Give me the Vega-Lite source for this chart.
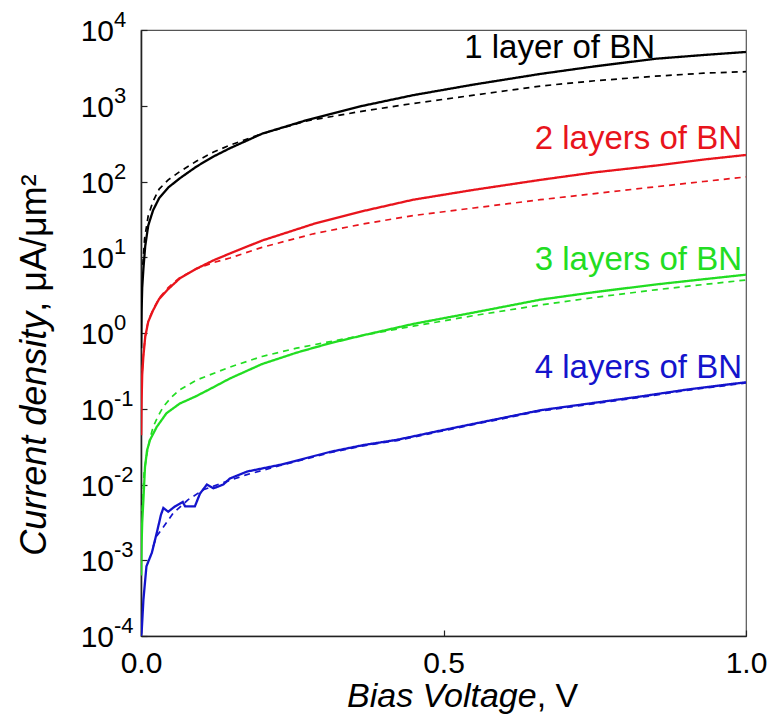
{
  "$schema": "https://vega.github.io/schema/vega-lite/v6.json",
  "width": 605,
  "height": 606,
  "autosize": "none",
  "padding": {"left": 141, "top": 30, "right": 28, "bottom": 92},
  "background": "white",
  "config": {
    "font": "Liberation Sans",
    "view": {"stroke": "#555", "strokeWidth": 1.2},
    "axis": {"grid": false, "domainColor": "#222", "domainWidth": 1.6, "tickColor": "#222", "tickWidth": 1.2, "labelColor": "#000", "labelFont": "Liberation Sans"}
  },
  "datasets": {
    "yticks": [
      {"J": 0.0001, "e": "-4"},
      {"J": 0.001, "e": "-3"},
      {"J": 0.01, "e": "-2"},
      {"J": 0.1, "e": "-1"},
      {"J": 1, "e": "0"},
      {"J": 10, "e": "1"},
      {"J": 100, "e": "2"},
      {"J": 1000, "e": "3"},
      {"J": 10000, "e": "4"}
    ],
    "curves": [
      {"s": "1 layer of BN", "k": "measured", "V": 0.0003, "J": 0.631},
      {"s": "1 layer of BN", "k": "measured", "V": 0.001, "J": 1.995},
      {"s": "1 layer of BN", "k": "measured", "V": 0.002, "J": 3.98},
      {"s": "1 layer of BN", "k": "measured", "V": 0.004, "J": 7.08},
      {"s": "1 layer of BN", "k": "measured", "V": 0.007, "J": 14.1},
      {"s": "1 layer of BN", "k": "measured", "V": 0.012, "J": 26.3},
      {"s": "1 layer of BN", "k": "measured", "V": 0.02, "J": 41.7},
      {"s": "1 layer of BN", "k": "measured", "V": 0.03, "J": 60.3},
      {"s": "1 layer of BN", "k": "measured", "V": 0.045, "J": 83.2},
      {"s": "1 layer of BN", "k": "measured", "V": 0.064, "J": 110},
      {"s": "1 layer of BN", "k": "measured", "V": 0.092, "J": 158},
      {"s": "1 layer of BN", "k": "measured", "V": 0.12, "J": 214},
      {"s": "1 layer of BN", "k": "measured", "V": 0.147, "J": 275},
      {"s": "1 layer of BN", "k": "measured", "V": 0.2, "J": 427},
      {"s": "1 layer of BN", "k": "measured", "V": 0.274, "J": 646},
      {"s": "1 layer of BN", "k": "measured", "V": 0.367, "J": 1000},
      {"s": "1 layer of BN", "k": "measured", "V": 0.45, "J": 1380},
      {"s": "1 layer of BN", "k": "measured", "V": 0.55, "J": 1905},
      {"s": "1 layer of BN", "k": "measured", "V": 0.66, "J": 2630},
      {"s": "1 layer of BN", "k": "measured", "V": 0.75, "J": 3311},
      {"s": "1 layer of BN", "k": "measured", "V": 0.85, "J": 4169},
      {"s": "1 layer of BN", "k": "measured", "V": 0.93, "J": 4677},
      {"s": "1 layer of BN", "k": "measured", "V": 1.0, "J": 5129},

      {"s": "1 layer of BN", "k": "model", "V": 0.003, "J": 7.94},
      {"s": "1 layer of BN", "k": "model", "V": 0.006, "J": 17.8},
      {"s": "1 layer of BN", "k": "model", "V": 0.012, "J": 35.5},
      {"s": "1 layer of BN", "k": "model", "V": 0.02, "J": 55.0},
      {"s": "1 layer of BN", "k": "model", "V": 0.03, "J": 79.4},
      {"s": "1 layer of BN", "k": "model", "V": 0.045, "J": 105},
      {"s": "1 layer of BN", "k": "model", "V": 0.064, "J": 135},
      {"s": "1 layer of BN", "k": "model", "V": 0.092, "J": 186},
      {"s": "1 layer of BN", "k": "model", "V": 0.12, "J": 245},
      {"s": "1 layer of BN", "k": "model", "V": 0.147, "J": 302},
      {"s": "1 layer of BN", "k": "model", "V": 0.2, "J": 427},
      {"s": "1 layer of BN", "k": "model", "V": 0.274, "J": 631},
      {"s": "1 layer of BN", "k": "model", "V": 0.367, "J": 851},
      {"s": "1 layer of BN", "k": "model", "V": 0.45, "J": 1072},
      {"s": "1 layer of BN", "k": "model", "V": 0.55, "J": 1380},
      {"s": "1 layer of BN", "k": "model", "V": 0.66, "J": 1820},
      {"s": "1 layer of BN", "k": "model", "V": 0.75, "J": 2138},
      {"s": "1 layer of BN", "k": "model", "V": 0.85, "J": 2455},
      {"s": "1 layer of BN", "k": "model", "V": 0.93, "J": 2692},
      {"s": "1 layer of BN", "k": "model", "V": 1.0, "J": 2818},

      {"s": "2 layers of BN", "k": "measured", "V": 0.0003, "J": 0.0447},
      {"s": "2 layers of BN", "k": "measured", "V": 0.001, "J": 0.126},
      {"s": "2 layers of BN", "k": "measured", "V": 0.002, "J": 0.282},
      {"s": "2 layers of BN", "k": "measured", "V": 0.004, "J": 0.501},
      {"s": "2 layers of BN", "k": "measured", "V": 0.007, "J": 0.891},
      {"s": "2 layers of BN", "k": "measured", "V": 0.012, "J": 1.413},
      {"s": "2 layers of BN", "k": "measured", "V": 0.02, "J": 1.995},
      {"s": "2 layers of BN", "k": "measured", "V": 0.03, "J": 2.818},
      {"s": "2 layers of BN", "k": "measured", "V": 0.045, "J": 3.802},
      {"s": "2 layers of BN", "k": "measured", "V": 0.064, "J": 5.248},
      {"s": "2 layers of BN", "k": "measured", "V": 0.092, "J": 7.079},
      {"s": "2 layers of BN", "k": "measured", "V": 0.12, "J": 9.12},
      {"s": "2 layers of BN", "k": "measured", "V": 0.147, "J": 11.22},
      {"s": "2 layers of BN", "k": "measured", "V": 0.2, "J": 16.6},
      {"s": "2 layers of BN", "k": "measured", "V": 0.285, "J": 27.5},
      {"s": "2 layers of BN", "k": "measured", "V": 0.367, "J": 40.7},
      {"s": "2 layers of BN", "k": "measured", "V": 0.45, "J": 57.5},
      {"s": "2 layers of BN", "k": "measured", "V": 0.55, "J": 77.6},
      {"s": "2 layers of BN", "k": "measured", "V": 0.66, "J": 105},
      {"s": "2 layers of BN", "k": "measured", "V": 0.75, "J": 132},
      {"s": "2 layers of BN", "k": "measured", "V": 0.85, "J": 162},
      {"s": "2 layers of BN", "k": "measured", "V": 0.93, "J": 195},
      {"s": "2 layers of BN", "k": "measured", "V": 1.0, "J": 224},

      {"s": "2 layers of BN", "k": "model", "V": 0.002, "J": 0.316},
      {"s": "2 layers of BN", "k": "model", "V": 0.004, "J": 0.525},
      {"s": "2 layers of BN", "k": "model", "V": 0.007, "J": 0.912},
      {"s": "2 layers of BN", "k": "model", "V": 0.012, "J": 1.445},
      {"s": "2 layers of BN", "k": "model", "V": 0.02, "J": 2.042},
      {"s": "2 layers of BN", "k": "model", "V": 0.03, "J": 2.884},
      {"s": "2 layers of BN", "k": "model", "V": 0.045, "J": 3.981},
      {"s": "2 layers of BN", "k": "model", "V": 0.064, "J": 5.37},
      {"s": "2 layers of BN", "k": "model", "V": 0.092, "J": 7.079},
      {"s": "2 layers of BN", "k": "model", "V": 0.12, "J": 8.511},
      {"s": "2 layers of BN", "k": "model", "V": 0.147, "J": 9.772},
      {"s": "2 layers of BN", "k": "model", "V": 0.2, "J": 13.5},
      {"s": "2 layers of BN", "k": "model", "V": 0.285, "J": 20.4},
      {"s": "2 layers of BN", "k": "model", "V": 0.367, "J": 27.5},
      {"s": "2 layers of BN", "k": "model", "V": 0.45, "J": 35.5},
      {"s": "2 layers of BN", "k": "model", "V": 0.55, "J": 44.7},
      {"s": "2 layers of BN", "k": "model", "V": 0.66, "J": 57.5},
      {"s": "2 layers of BN", "k": "model", "V": 0.75, "J": 69.2},
      {"s": "2 layers of BN", "k": "model", "V": 0.85, "J": 85.1},
      {"s": "2 layers of BN", "k": "model", "V": 0.93, "J": 100},
      {"s": "2 layers of BN", "k": "model", "V": 1.0, "J": 115},

      {"s": "3 layers of BN", "k": "measured", "V": 0.0003, "J": 0.000631},
      {"s": "3 layers of BN", "k": "measured", "V": 0.001, "J": 0.00166},
      {"s": "3 layers of BN", "k": "measured", "V": 0.002, "J": 0.00316},
      {"s": "3 layers of BN", "k": "measured", "V": 0.004, "J": 0.00631},
      {"s": "3 layers of BN", "k": "measured", "V": 0.0066, "J": 0.017},
      {"s": "3 layers of BN", "k": "measured", "V": 0.01, "J": 0.0282},
      {"s": "3 layers of BN", "k": "measured", "V": 0.015, "J": 0.0389},
      {"s": "3 layers of BN", "k": "measured", "V": 0.026, "J": 0.0575},
      {"s": "3 layers of BN", "k": "measured", "V": 0.042, "J": 0.0871},
      {"s": "3 layers of BN", "k": "measured", "V": 0.064, "J": 0.117},
      {"s": "3 layers of BN", "k": "measured", "V": 0.09, "J": 0.145},
      {"s": "3 layers of BN", "k": "measured", "V": 0.114, "J": 0.182},
      {"s": "3 layers of BN", "k": "measured", "V": 0.147, "J": 0.251},
      {"s": "3 layers of BN", "k": "measured", "V": 0.2, "J": 0.389},
      {"s": "3 layers of BN", "k": "measured", "V": 0.257, "J": 0.55},
      {"s": "3 layers of BN", "k": "measured", "V": 0.31, "J": 0.724},
      {"s": "3 layers of BN", "k": "measured", "V": 0.367, "J": 0.933},
      {"s": "3 layers of BN", "k": "measured", "V": 0.45, "J": 1.318},
      {"s": "3 layers of BN", "k": "measured", "V": 0.55, "J": 1.862},
      {"s": "3 layers of BN", "k": "measured", "V": 0.66, "J": 2.754},
      {"s": "3 layers of BN", "k": "measured", "V": 0.75, "J": 3.467},
      {"s": "3 layers of BN", "k": "measured", "V": 0.85, "J": 4.365},
      {"s": "3 layers of BN", "k": "measured", "V": 0.93, "J": 5.129},
      {"s": "3 layers of BN", "k": "measured", "V": 1.0, "J": 5.888},

      {"s": "3 layers of BN", "k": "model", "V": 0.002, "J": 0.00447},
      {"s": "3 layers of BN", "k": "model", "V": 0.005, "J": 0.0141},
      {"s": "3 layers of BN", "k": "model", "V": 0.009, "J": 0.0234},
      {"s": "3 layers of BN", "k": "model", "V": 0.014, "J": 0.038},
      {"s": "3 layers of BN", "k": "model", "V": 0.02, "J": 0.0575},
      {"s": "3 layers of BN", "k": "model", "V": 0.028, "J": 0.0794},
      {"s": "3 layers of BN", "k": "model", "V": 0.037, "J": 0.107},
      {"s": "3 layers of BN", "k": "model", "V": 0.05, "J": 0.141},
      {"s": "3 layers of BN", "k": "model", "V": 0.064, "J": 0.178},
      {"s": "3 layers of BN", "k": "model", "V": 0.092, "J": 0.24},
      {"s": "3 layers of BN", "k": "model", "V": 0.147, "J": 0.355},
      {"s": "3 layers of BN", "k": "model", "V": 0.2, "J": 0.49},
      {"s": "3 layers of BN", "k": "model", "V": 0.257, "J": 0.631},
      {"s": "3 layers of BN", "k": "model", "V": 0.367, "J": 0.933},
      {"s": "3 layers of BN", "k": "model", "V": 0.45, "J": 1.23},
      {"s": "3 layers of BN", "k": "model", "V": 0.55, "J": 1.698},
      {"s": "3 layers of BN", "k": "model", "V": 0.66, "J": 2.344},
      {"s": "3 layers of BN", "k": "model", "V": 0.75, "J": 2.951},
      {"s": "3 layers of BN", "k": "model", "V": 0.85, "J": 3.715},
      {"s": "3 layers of BN", "k": "model", "V": 0.93, "J": 4.365},
      {"s": "3 layers of BN", "k": "model", "V": 1.0, "J": 5.012},

      {"s": "4 layers of BN", "k": "measured", "V": 0.0, "J": 0.0001},
      {"s": "4 layers of BN", "k": "measured", "V": 0.001, "J": 0.00011},
      {"s": "4 layers of BN", "k": "measured", "V": 0.004, "J": 0.000302},
      {"s": "4 layers of BN", "k": "measured", "V": 0.009, "J": 0.000832},
      {"s": "4 layers of BN", "k": "measured", "V": 0.018, "J": 0.00126},
      {"s": "4 layers of BN", "k": "measured", "V": 0.026, "J": 0.00229},
      {"s": "4 layers of BN", "k": "measured", "V": 0.033, "J": 0.00398},
      {"s": "4 layers of BN", "k": "measured", "V": 0.037, "J": 0.0049},
      {"s": "4 layers of BN", "k": "measured", "V": 0.045, "J": 0.00437},
      {"s": "4 layers of BN", "k": "measured", "V": 0.056, "J": 0.00513},
      {"s": "4 layers of BN", "k": "measured", "V": 0.069, "J": 0.00589},
      {"s": "4 layers of BN", "k": "measured", "V": 0.073, "J": 0.00513},
      {"s": "4 layers of BN", "k": "measured", "V": 0.089, "J": 0.00513},
      {"s": "4 layers of BN", "k": "measured", "V": 0.0975, "J": 0.00759},
      {"s": "4 layers of BN", "k": "measured", "V": 0.109, "J": 0.01},
      {"s": "4 layers of BN", "k": "measured", "V": 0.12, "J": 0.00891},
      {"s": "4 layers of BN", "k": "measured", "V": 0.136, "J": 0.01},
      {"s": "4 layers of BN", "k": "measured", "V": 0.147, "J": 0.012},
      {"s": "4 layers of BN", "k": "measured", "V": 0.175, "J": 0.0148},
      {"s": "4 layers of BN", "k": "measured", "V": 0.23, "J": 0.0182},
      {"s": "4 layers of BN", "k": "measured", "V": 0.312, "J": 0.0269},
      {"s": "4 layers of BN", "k": "measured", "V": 0.367, "J": 0.0331},
      {"s": "4 layers of BN", "k": "measured", "V": 0.423, "J": 0.0389},
      {"s": "4 layers of BN", "k": "measured", "V": 0.5, "J": 0.0525},
      {"s": "4 layers of BN", "k": "measured", "V": 0.58, "J": 0.0708},
      {"s": "4 layers of BN", "k": "measured", "V": 0.66, "J": 0.0955},
      {"s": "4 layers of BN", "k": "measured", "V": 0.75, "J": 0.12},
      {"s": "4 layers of BN", "k": "measured", "V": 0.825, "J": 0.145},
      {"s": "4 layers of BN", "k": "measured", "V": 0.9, "J": 0.178},
      {"s": "4 layers of BN", "k": "measured", "V": 1.0, "J": 0.224},

      {"s": "4 layers of BN", "k": "model", "V": 0.02, "J": 0.00151},
      {"s": "4 layers of BN", "k": "model", "V": 0.026, "J": 0.00209},
      {"s": "4 layers of BN", "k": "model", "V": 0.037, "J": 0.00275},
      {"s": "4 layers of BN", "k": "model", "V": 0.053, "J": 0.00417},
      {"s": "4 layers of BN", "k": "model", "V": 0.078, "J": 0.00631},
      {"s": "4 layers of BN", "k": "model", "V": 0.103, "J": 0.00851},
      {"s": "4 layers of BN", "k": "model", "V": 0.142, "J": 0.011},
      {"s": "4 layers of BN", "k": "model", "V": 0.175, "J": 0.0135},
      {"s": "4 layers of BN", "k": "model", "V": 0.23, "J": 0.0178},
      {"s": "4 layers of BN", "k": "model", "V": 0.312, "J": 0.0263},
      {"s": "4 layers of BN", "k": "model", "V": 0.367, "J": 0.0324},
      {"s": "4 layers of BN", "k": "model", "V": 0.423, "J": 0.038},
      {"s": "4 layers of BN", "k": "model", "V": 0.5, "J": 0.0513},
      {"s": "4 layers of BN", "k": "model", "V": 0.58, "J": 0.0692},
      {"s": "4 layers of BN", "k": "model", "V": 0.66, "J": 0.0933},
      {"s": "4 layers of BN", "k": "model", "V": 0.75, "J": 0.117},
      {"s": "4 layers of BN", "k": "model", "V": 0.825, "J": 0.141},
      {"s": "4 layers of BN", "k": "model", "V": 0.9, "J": 0.174},
      {"s": "4 layers of BN", "k": "model", "V": 1.0, "J": 0.219}
    ]
  },
  "layer": [
    {
      "data": {"name": "curves"},
      "mark": {"type": "line", "clip": true},
      "encoding": {
        "x": {
          "field": "V", "type": "quantitative",
          "scale": {"domain": [0, 1], "nice": false, "zero": false},
          "axis": {"values": [0, 0.5, 1], "format": ".1f", "title": null, "labelFontSize": 30, "tickSize": -6, "labelPadding": 18, "labelFlush": false, "labelAngle": 0}
        },
        "y": {
          "field": "J", "type": "quantitative",
          "scale": {"type": "log", "domain": [0.0001, 10000], "nice": false},
          "axis": {
            "values": [0.0001, 0.001, 0.01, 0.1, 1, 10, 100, 1000, 10000],
            "title": null, "labels": false, "tickSize": -6
          }
        },
        "color": {
          "field": "s", "type": "nominal",
          "scale": {"domain": ["1 layer of BN", "2 layers of BN", "3 layers of BN", "4 layers of BN"], "range": ["#000000", "#e8141c", "#22dd22", "#1414cc"]},
          "legend": null
        },
        "strokeDash": {
          "field": "k", "type": "nominal",
          "scale": {"domain": ["measured", "model"], "range": [[1, 0], [6, 5]]},
          "legend": null
        },
        "strokeWidth": {
          "field": "k", "type": "nominal",
          "scale": {"domain": ["measured", "model"], "range": [2.3, 1.7]},
          "legend": null
        }
      }
    },
    {
      "data": {"name": "yticks"},
      "mark": {"type": "text", "align": "right", "baseline": "middle", "fontSize": 30, "font": "Liberation Sans", "color": "#000000", "dy": 2},
      "encoding": {"x": {"datum": -0.0446}, "y": {"field": "J", "type": "quantitative"}, "text": {"value": "10"}}
    },
    {
      "data": {"name": "yticks"},
      "mark": {"type": "text", "align": "left", "baseline": "middle", "fontSize": 22, "font": "Liberation Sans", "color": "#000000", "dy": -10},
      "encoding": {"x": {"datum": -0.0446}, "y": {"field": "J", "type": "quantitative"}, "text": {"field": "e"}}
    },
    {
      "data": {"values": [{}]},
      "mark": {"type": "text", "align": "right", "baseline": "alphabetic", "fontSize": 33, "font": "Liberation Sans", "color": "#000000"},
      "encoding": {"x": {"datum": 0.8496}, "y": {"datum": 4266}, "text": {"value": "1 layer of BN"}}
    },
    {
      "data": {"values": [{}]},
      "mark": {"type": "text", "align": "right", "baseline": "alphabetic", "fontSize": 33, "font": "Liberation Sans", "color": "#e8141c"},
      "encoding": {"x": {"datum": 0.9934}, "y": {"datum": 266}, "text": {"value": "2 layers of BN"}}
    },
    {
      "data": {"values": [{}]},
      "mark": {"type": "text", "align": "right", "baseline": "alphabetic", "fontSize": 33, "font": "Liberation Sans", "color": "#22dd22"},
      "encoding": {"x": {"datum": 0.9934}, "y": {"datum": 6.79}, "text": {"value": "3 layers of BN"}}
    },
    {
      "data": {"values": [{}]},
      "mark": {"type": "text", "align": "right", "baseline": "alphabetic", "fontSize": 33, "font": "Liberation Sans", "color": "#1414cc"},
      "encoding": {"x": {"datum": 0.9934}, "y": {"datum": 0.252}, "text": {"value": "4 layers of BN"}}
    },
    {
      "data": {"values": [{}]},
      "mark": {"type": "text", "align": "right", "baseline": "alphabetic", "fontSize": 34, "fontStyle": "italic", "font": "Liberation Sans", "color": "#000000"},
      "encoding": {"x": {"datum": 0.654}, "y": {"datum": 0.00001156}, "text": {"value": "Bias Voltage"}}
    },
    {
      "data": {"values": [{}]},
      "mark": {"type": "text", "align": "left", "baseline": "alphabetic", "fontSize": 34, "font": "Liberation Sans", "color": "#000000"},
      "encoding": {"x": {"datum": 0.654}, "y": {"datum": 0.00001156}, "text": {"value": ", V"}}
    },
    {
      "data": {"values": [{}]},
      "mark": {"type": "text", "align": "right", "baseline": "middle", "angle": 270, "fontSize": 36, "fontStyle": "italic", "font": "Liberation Sans", "color": "#000000"},
      "encoding": {"x": {"datum": -0.1752}, "y": {"datum": 1.908}, "text": {"value": "Current density"}}
    },
    {
      "data": {"values": [{}]},
      "mark": {"type": "text", "align": "left", "baseline": "middle", "angle": 270, "fontSize": 36, "font": "Liberation Sans", "color": "#000000"},
      "encoding": {"x": {"datum": -0.1752}, "y": {"datum": 1.908}, "text": {"value": ", μA/μm²"}}
    }
  ]
}
